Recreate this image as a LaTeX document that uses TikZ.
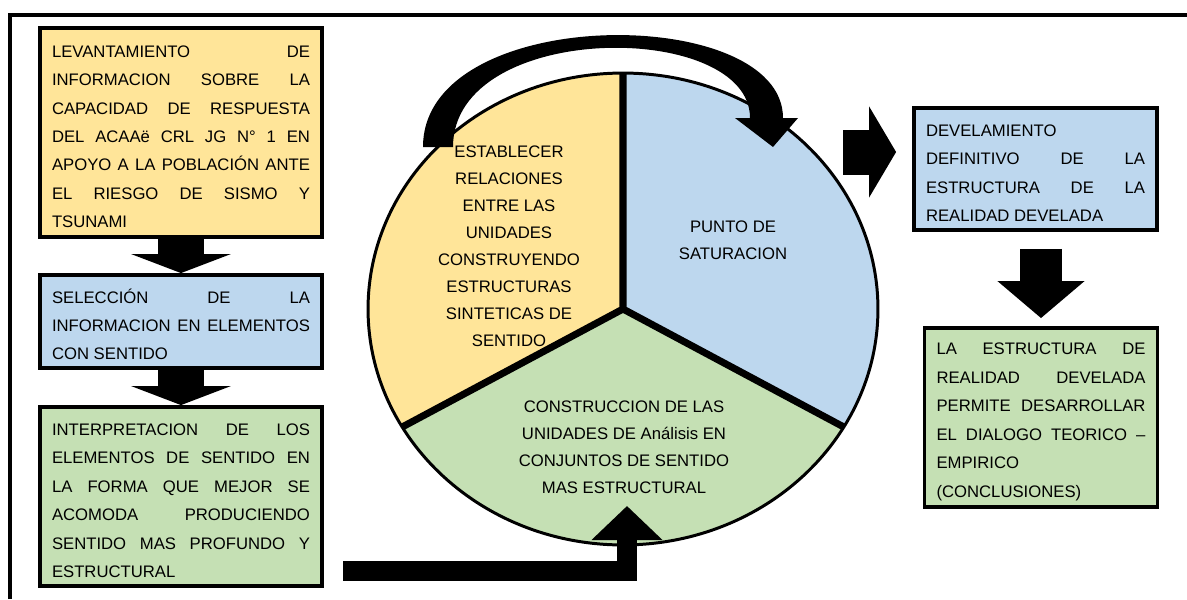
\documentclass[tikz,border=0pt]{standalone}
\usepackage{fontspec}
\setmainfont{Liberation Sans}
\usetikzlibrary{arrows.meta}
\definecolor{amarillo}{HTML}{FFE599}
\definecolor{celeste}{HTML}{BDD7EE}
\definecolor{verde}{HTML}{C5E0B4}
\tolerance=10000
\hbadness=10000
\setlength{\parindent}{0pt}

\begin{document}
\begin{tikzpicture}[x=0.02cm,y=-0.02cm]
    \tikzset{every node/.style={font=\fontsize{9.5}{16.2}\selectfont}}
    \tikzset{caja/.style={draw=black,line width=2.2pt,align=justify,inner xsep=0.24cm,inner ysep=0pt,execute at begin node={\rule{0pt}{11.5pt}}}}
    \tikzset{sector/.style={align=center,font=\fontsize{9.5}{15.4}\selectfont}}
    \tikzset{flecha/.style={draw=black,line cap=butt}}
    \useasboundingbox (0,0) rectangle (1187,599);

    \draw[line width=2.3pt] (10,599) -- (10,15) -- (1187,15);

    \node[caja,fill=amarillo,text width=5.16cm,minimum height=4.18cm] (11) at (181,132.5) {LEVANTAMIENTO DE\linebreak INFORMACION SOBRE LA\linebreak CAPACIDAD DE RESPUESTA\linebreak DEL ACAAë CRL JG N° 1 EN\linebreak APOYO A LA POBLACIÓN ANTE\linebreak EL RIESGO DE SISMO Y\linebreak TSUNAMI};
    \node[caja,fill=celeste,text width=5.16cm,minimum height=1.86cm] (12) at (181,321.5) {SELECCIÓN DE LA\linebreak INFORMACION EN ELEMENTOS\linebreak CON SENTIDO};
    \node[caja,fill=verde,text width=5.16cm,minimum height=3.58cm] (13) at (181,496.5) {INTERPRETACION DE LOS\linebreak ELEMENTOS DE SENTIDO EN\linebreak LA FORMA QUE MEJOR SE\linebreak ACOMODA PRODUCIENDO\linebreak SENTIDO MAS PROFUNDO Y\linebreak ESTRUCTURAL};

    \node[caja,fill=celeste,text width=4.38cm,minimum height=2.44cm] (31) at (1035.5,169) {DEVELAMIENTO\linebreak DEFINITIVO DE LA\linebreak ESTRUCTURA DE LA\linebreak REALIDAD DEVELADA};
    \node[caja,fill=verde,text width=4.18cm,minimum height=3.58cm] (32) at (1041,417.5) {LA ESTRUCTURA DE\linebreak REALIDAD DEVELADA\linebreak PERMITE DESARROLLAR\linebreak EL DIALOGO TEORICO –\linebreak EMPIRICO\linebreak (CONCLUSIONES)};

    % ciclo
    \coordinate (c0) at (623,309);
    \fill[amarillo] (c0) -- (623,73) arc[start angle=90,end angle=210,x radius=5.1cm,y radius=4.72cm] -- cycle;
    \fill[celeste] (c0) -- (843.8,427) arc[start angle=-30,end angle=90,x radius=5.1cm,y radius=4.72cm] -- cycle;
    \fill[verde] (c0) -- (402.2,427) arc[start angle=210,end angle=330,x radius=5.1cm,y radius=4.72cm] -- cycle;
    \draw[line width=1.7pt] (c0) ellipse[x radius=5.1cm,y radius=4.72cm];
    \draw[line width=4pt] (623,73) -- (c0) -- (402.2,427) (c0) -- (843.8,427);

    \fill[black] (423,147) .. controls (423,3) and (783,3) .. (783,118) -- (798,118) -- (773,147) -- (735,118) -- (750,118)
        .. controls (750,20) and (453,20) .. (453,147) -- cycle;

    \node[sector] (21) at (509,246) {ESTABLECER\\RELACIONES\\ENTRE LAS\\UNIDADES\\CONSTRUYENDO\\ESTRUCTURAS\\SINTETICAS DE\\SENTIDO};
    \node[sector] (22) at (733,240.5) {PUNTO DE\\SATURACION};
    \node[sector] (23) at (624,447.5) {CONSTRUCCION DE LAS\\UNIDADES DE Análisis EN\\CONJUNTOS DE SENTIDO\\MAS ESTRUCTURAL};

    \coordinate (c1) at (843,152);
    \coordinate (c2) at (343,571);
    \coordinate (c3) at (627,506);

    \draw[flecha,line width=0.94cm,-{Triangle[length=0.38cm,width=1.98cm]}] (11) -- (12);
    \draw[flecha,line width=0.94cm,-{Triangle[length=0.38cm,width=1.98cm]}] (12) -- (13);
    \draw[flecha,line width=0.9cm,-{Triangle[length=0.54cm,width=1.8cm]},shorten >=0.32cm] (c1) -- (c1 -| 31.west);
    \draw[flecha,line width=0.84cm,-{Triangle[length=0.74cm,width=1.7cm]},shorten <=0.34cm,shorten >=0.16cm] (31.south -| 32.north) -- (32.north);
    \draw[flecha,line width=0.4cm,-{Triangle[length=0.68cm,width=1.38cm]}] (c2) -| (c3);
\end{tikzpicture}
\end{document}
